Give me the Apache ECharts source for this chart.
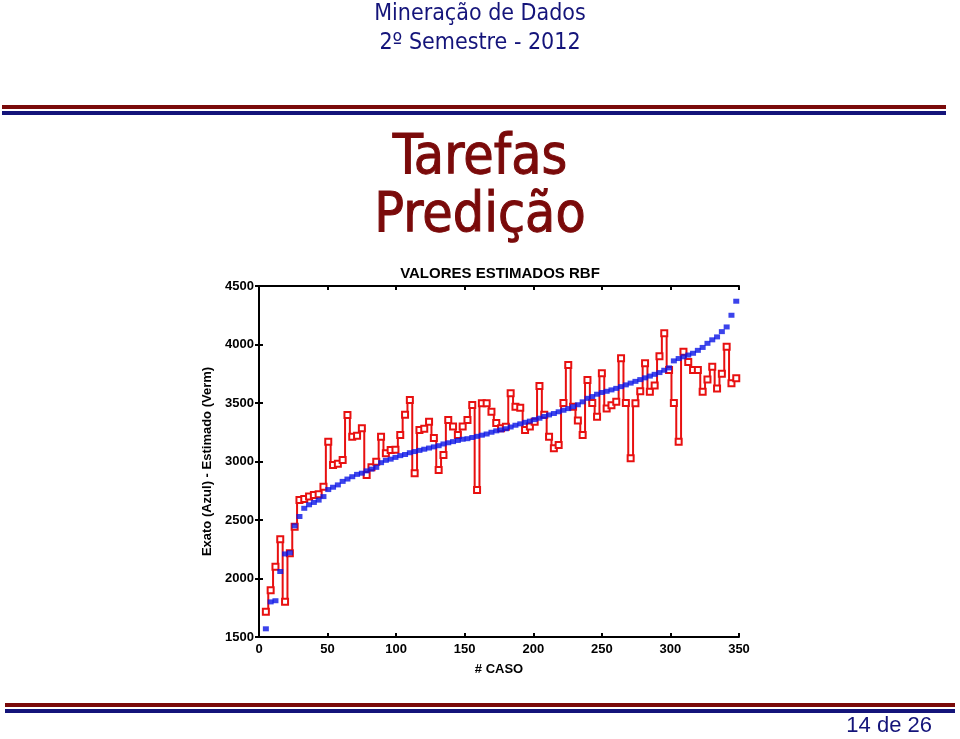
<!DOCTYPE html>
<html>
<head>
<meta charset="utf-8">
<script src="https://cdn.jsdelivr.net/npm/echarts@6/dist/echarts.min.js"></script>
<style>
  html, body { margin: 0; padding: 0; background: #fff; }
  #chart { width: 960px; height: 739px; }
</style>
</head>
<body>
<div id="chart"></div>
<script>
// numero do caso (eixo x)
const caseNo = [
  5, 8.5, 12, 15.5, 19, 22.5, 26, 29.5, 33, 36.5,
  40, 43.5, 47, 50.5, 54, 57.5, 61, 64.5, 68, 71.5,
  75, 78.5, 82, 85.5, 89, 92.5, 96, 99.5, 103, 106.5,
  110, 113.5, 117, 120.5, 124, 127.5, 131, 134.5, 138, 141.5,
  145, 148.5, 152, 155.5, 159, 162.5, 166, 169.5, 173, 176.5,
  180, 183.5, 187, 190.5, 194, 197.5, 201, 204.5, 208, 211.5,
  215, 218.5, 222, 225.5, 229, 232.5, 236, 239.5, 243, 246.5,
  250, 253.5, 257, 260.5, 264, 267.5, 271, 274.5, 278, 281.5,
  285, 288.5, 292, 295.5, 299, 302.5, 306, 309.5, 313, 316.5,
  320, 323.5, 327, 330.5, 334, 337.5, 341, 344.5, 348
]
// valor exato (azul)
const exato = [
  1570, 1800, 1810, 2060, 2210, 2220, 2450, 2530, 2600, 2630,
  2650, 2670, 2700, 2760, 2780, 2800, 2830, 2850, 2870, 2890,
  2900, 2920, 2935, 2950, 2990, 3010, 3020, 3035, 3050, 3060,
  3075, 3085, 3095, 3105, 3115, 3125, 3135, 3150, 3160, 3170,
  3180, 3190, 3195, 3205, 3215, 3225, 3235, 3250, 3262, 3270,
  3280, 3295, 3310, 3322, 3335, 3345, 3358, 3370, 3385, 3398,
  3410, 3425, 3438, 3452, 3468, 3485, 3510, 3540, 3555, 3575,
  3590, 3600, 3612, 3625, 3640, 3655, 3670, 3685, 3700, 3715,
  3730, 3745, 3760, 3780, 3800, 3860, 3880, 3895, 3910, 3925,
  3950, 3975, 4010, 4040, 4065, 4110, 4150, 4250, 4370
]
// valor estimado pela RBF (vermelho)
const estimado = [
  1716, 1900, 2100, 2335, 1802, 2215, 2443, 2671, 2680, 2700,
  2714, 2720, 2785, 3169, 2970, 2980, 3013, 3397, 3212, 3220,
  3284, 2885, 2950, 2998, 3212, 3070, 3098, 3100, 3226, 3400,
  3526, 2899, 3269, 3280, 3340, 3200, 2927, 3055, 3355, 3300,
  3226, 3300, 3355, 3483, 2756, 3497, 3497, 3426, 3330, 3284,
  3297, 3583, 3469, 3460, 3269, 3300, 3340, 3645, 3400, 3212,
  3113, 3141, 3500, 3825, 3469, 3350, 3226, 3697, 3500, 3383,
  3754, 3454, 3480, 3511, 3882, 3500, 3027, 3497, 3600, 3839,
  3597, 3650, 3900, 4096, 3782, 3500, 3169, 3938, 3850, 3782,
  3782, 3597, 3700, 3810, 3625, 3750, 3981, 3668, 3711
]
const xTicks = [0, 50, 100, 150, 200, 250, 300, 350]
const yTicks = [1500, 2000, 2500, 3000, 3500, 4000, 4500]

const navy = '#14147a'
const darkRed = '#7a0a0a'
const axisFont = { color: '#000', fontFamily: 'Liberation Sans', fontWeight: 'bold', fontSize: 13 }

const chartInstance = echarts.init(document.getElementById('chart'), null, { renderer: 'canvas' })

const boxAxis = (extra) => Object.assign({
  type: 'value',
  axisLine: { show: true, lineStyle: { color: '#000', width: 2 } },
  axisTick: { show: true, inside: true, length: 4, lineStyle: { color: '#000', width: 2 } },
  splitLine: { show: false }
}, extra)

const option = {
  backgroundColor: '#fff',
  animation: false,
  title: {
    text: 'VALORES ESTIMADOS RBF',
    left: 495,
    top: 261,
    textAlign: 'center',
    textStyle: { color: '#000', fontFamily: 'Liberation Sans', fontWeight: 'bold', fontSize: 15 }
  },
  grid: { left: 259, right: 221, top: 286, bottom: 102 },
  xAxis: [
    boxAxis({
      min: 0, max: 350, interval: 50, position: 'bottom',
      name: '# CASO', nameLocation: 'middle', nameGap: 26,
      nameTextStyle: axisFont,
      axisLabel: Object.assign({ margin: 6, formatter: (v) => xTicks.includes(v) ? String(v) : '' }, axisFont)
    }),
    boxAxis({ min: 0, max: 350, interval: 50, position: 'top', axisLabel: { show: false } })
  ],
  yAxis: [
    boxAxis({
      min: 1500, max: 4500, interval: 500, position: 'left',
      name: 'Exato (Azul) - Estimado (Verm)', nameLocation: 'middle', nameGap: 45,
      nameTextStyle: axisFont,
      axisLabel: Object.assign({ margin: 5, formatter: (v) => yTicks.includes(v) ? String(v) : '' }, axisFont)
    }),
    boxAxis({ min: 1500, max: 4500, interval: 500, position: 'right', axisLabel: { show: false } })
  ],
  series: [
    {
      name: 'Estimado',
      type: 'line',
      step: 'middle',
      data: caseNo.map((x, i) => [x, estimado[i]]),
      lineStyle: { color: '#e81010', width: 2 },
      symbol: 'rect',
      symbolSize: 6,
      itemStyle: { color: '#fff', borderColor: '#e81010', borderWidth: 2 },
      z: 2
    },
    {
      name: 'Exato',
      type: 'scatter',
      data: caseNo.map((x, i) => [x, exato[i]]),
      symbol: 'rect',
      symbolSize: [6, 5],
      itemStyle: { color: '#0a14e6' },
      z: 3
    }
  ],
  graphic: [
    {
      type: 'text', left: 'center', top: 3,
      style: { text: 'Mineração de Dados', fill: navy, font: '23px "DejaVu Sans Condensed"' }
    },
    {
      type: 'text', left: 'center', top: 32,
      style: { text: '2º Semestre - 2012', fill: navy, font: '23px "DejaVu Sans Condensed"' }
    },
    { type: 'rect', shape: { x: 2, y: 105, width: 944, height: 4 }, style: { fill: darkRed } },
    { type: 'rect', shape: { x: 2, y: 111, width: 944, height: 4 }, style: { fill: navy } },
    {
      type: 'text', left: 'center', top: 131,
      style: { text: 'Tarefas', fill: darkRed, font: '55px "DejaVu Sans Condensed"', stroke: darkRed, lineWidth: 1 }
    },
    {
      type: 'text', left: 'center', top: 189,
      style: { text: 'Predição', fill: darkRed, font: '55px "DejaVu Sans Condensed"', stroke: darkRed, lineWidth: 1 }
    },
    { type: 'rect', shape: { x: 5, y: 703, width: 950, height: 4 }, style: { fill: darkRed } },
    { type: 'rect', shape: { x: 5, y: 709, width: 950, height: 4 }, style: { fill: navy } },
    {
      type: 'text', right: 28, top: 715,
      style: { text: '14 de 26', fill: navy, font: '22px "Liberation Sans"' }
    }
  ]
}
chartInstance.setOption(option)
</script>
</body>
</html>
